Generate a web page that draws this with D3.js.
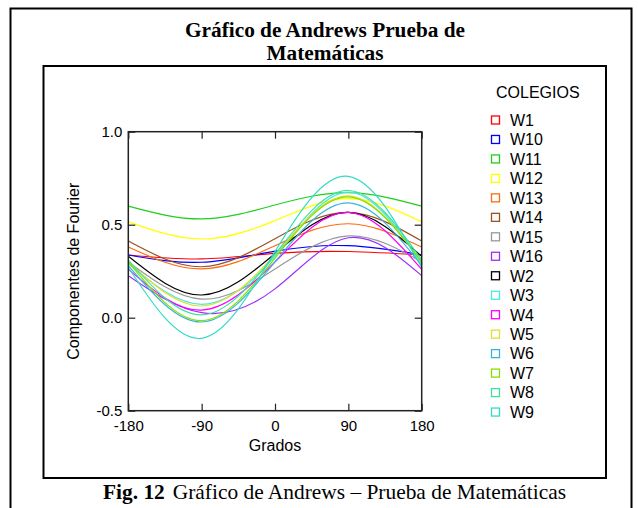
<!DOCTYPE html>
<html>
<head>
<meta charset="utf-8">
<script src="https://cdn.jsdelivr.net/npm/d3@7"></script>
<style>
  html, body { margin: 0; padding: 0; background: #fff; }
  svg { display: block; }
</style>
</head>
<body>
<svg id="chart" width="638" height="508"></svg>
<script>
// ---- data ----
const degrees = [-180, -90, 0, 90, 180];
const schools = ["W1", "W10", "W11", "W12", "W13", "W14", "W15", "W16",
                 "W2", "W3", "W4", "W5", "W6", "W7", "W8", "W9"];
const W1  = [0.337, 0.316, 0.346, 0.356, 0.337];
const W10 = [0.337, 0.298, 0.358, 0.387, 0.337];
const W11 = [0.600, 0.531, 0.606, 0.672, 0.600];
const W12 = [0.515, 0.423, 0.522, 0.640, 0.515];
const W13 = [0.380, 0.262, 0.387, 0.505, 0.380];
const W14 = [0.412, 0.274, 0.425, 0.566, 0.412];
const W15 = [0.300, 0.100, 0.262, 0.440, 0.300];
const W16 = [0.226, 0.027, 0.155, 0.430, 0.226];
const W2  = [0.330, 0.122, 0.345, 0.566, 0.330];
const W3  = [0.290, 0.072, 0.330, 0.675, 0.290];
const W4  = [0.260, 0.041, 0.300, 0.566, 0.260];
const W5  = [0.300, 0.063, 0.340, 0.655, 0.300];
const W6  = [0.280, -0.023, 0.300, 0.617, 0.280];
const W7  = [0.300, -0.016, 0.320, 0.650, 0.300];
const W8  = [0.310, 0.015, 0.340, 0.684, 0.310];
const W9  = [0.270, -0.111, 0.355, 0.760, 0.270];
const seriesValues = [W1, W10, W11, W12, W13, W14, W15, W16, W2, W3, W4, W5, W6, W7, W8, W9];
const colors = ["#ff0000", "#0000ff", "#1ecf1e", "#ffff00", "#ff6a10", "#9c5222", "#999999", "#9b30ff",
                "#000000", "#4de6e6", "#ff00ff", "#e0e030", "#38b4dc", "#84e000", "#40e0a0", "#30dcc8"];
const xTicks = [-180, -90, 0, 90, 180];
const yTicks = [-0.5, 0.0, 0.5, 1.0];

const titleLines = ["Gráfico de Andrews Prueba de", "Matemáticas"];
const xTitle = "Grados";
const yTitle = "Componentes de Fourier";
const legendTitle = "COLEGIOS";

// ---- drawing ----
const svg = d3.select("#chart");
const sans = "Arial, 'Liberation Sans', Helvetica, sans-serif";
const serif = "'Times New Roman', 'Liberation Serif', serif";

// outer frame (bottom edge runs off the picture)
svg.append("rect").attr("x", 10.5).attr("y", 8.5).attr("width", 621).attr("height", 520)
  .attr("fill", "none").attr("stroke", "#000").attr("stroke-width", 2);

// title
svg.append("g").selectAll("text").data(titleLines).join("text")
  .attr("x", 325).attr("y", (d, i) => 37 + i * 23)
  .attr("text-anchor", "middle")
  .attr("font-family", serif).attr("font-weight", "bold").attr("font-size", 21.3)
  .text(d => d);

// inner frame
svg.append("rect").attr("x", 43.5).attr("y", 66).attr("width", 562.5).attr("height", 412)
  .attr("fill", "none").attr("stroke", "#000").attr("stroke-width", 2);

// caption
const cap = svg.append("text").attr("x", 103).attr("y", 499)
  .attr("font-family", serif).attr("font-size", 21.4);
cap.append("tspan").attr("font-weight", "bold").text("Fig. 12");
cap.append("tspan").attr("dx", 8).text("Gráfico de Andrews – Prueba de Matemáticas");

// scales
const x = d3.scaleLinear().domain([-180, 180]).range([128.3, 421.7]);
const y = d3.scaleLinear().domain([-0.5, 1.0]).range([410.7, 131.7]);

// clip
svg.append("clipPath").attr("id", "clip").append("rect")
  .attr("x", x(-180)).attr("y", y(1.0)).attr("width", x(180) - x(-180)).attr("height", y(-0.5) - y(1.0));

// curves
const line = d3.line()
  .x((d, i) => x(degrees[i]))
  .y(d => y(d))
  .curve(d3.curveNatural);

svg.append("g").attr("clip-path", "url(#clip)")
  .selectAll("path").data(seriesValues).join("path")
  .attr("d", d => line(d))
  .attr("fill", "none")
  .attr("stroke", (d, i) => colors[i])
  .attr("stroke-width", 1.2);

// axes
const axisColor = "#222";
function styleAxis(g, showText) {
  g.select(".domain").remove();
  g.selectAll(".tick line").attr("stroke", axisColor).attr("stroke-width", 1.2);
  g.selectAll(".tick text").attr("font-family", sans).attr("font-size", 15).attr("fill", "#000");
  if (!showText) g.selectAll(".tick text").remove();
}
svg.append("g").attr("transform", `translate(0,${y(-0.5)})`)
  .call(d3.axisBottom(x).tickValues(xTicks).tickSize(-7).tickPadding(10).tickFormat(d => String(d)))
  .call(g => styleAxis(g, true));
svg.append("g").attr("transform", `translate(0,${y(1.0)})`)
  .call(d3.axisTop(x).tickValues(xTicks).tickSize(-7))
  .call(g => styleAxis(g, false));
svg.append("g").attr("transform", `translate(${x(-180)},0)`)
  .call(d3.axisLeft(y).tickValues(yTicks).tickSize(-7).tickPadding(6).tickFormat(d => d.toFixed(1)))
  .call(g => styleAxis(g, true));
svg.append("g").attr("transform", `translate(${x(180)},0)`)
  .call(d3.axisRight(y).tickValues(yTicks).tickSize(-7))
  .call(g => styleAxis(g, false));

// plot box
svg.append("rect").attr("x", x(-180)).attr("y", y(1.0))
  .attr("width", x(180) - x(-180)).attr("height", y(-0.5) - y(1.0))
  .attr("fill", "none").attr("stroke", axisColor).attr("stroke-width", 1.5);

// axis titles
svg.append("text").attr("x", (x(-180) + x(180)) / 2).attr("y", 451)
  .attr("text-anchor", "middle").attr("font-family", sans).attr("font-size", 16)
  .text(xTitle);
svg.append("text")
  .attr("transform", `translate(79,${(y(1.0) + y(-0.5)) / 2}) rotate(-90)`)
  .attr("text-anchor", "middle").attr("font-family", sans).attr("font-size", 16)
  .text(yTitle);

// legend
svg.append("text").attr("x", 496).attr("y", 97.5)
  .attr("font-family", sans).attr("font-size", 16).text(legendTitle);
const leg = svg.append("g").selectAll("g").data(schools).join("g")
  .attr("transform", (d, i) => `translate(491,${120 + i * 19.47})`);
leg.append("rect").attr("x", 0.5).attr("y", -4).attr("width", 8).attr("height", 8)
  .attr("fill", "#fff").attr("stroke", (d, i) => colors[i]).attr("stroke-width", 1.3);
leg.append("text").attr("x", 19).attr("y", 5.8)
  .attr("font-family", sans).attr("font-size", 16).text(d => d);
</script>
</body>
</html>
